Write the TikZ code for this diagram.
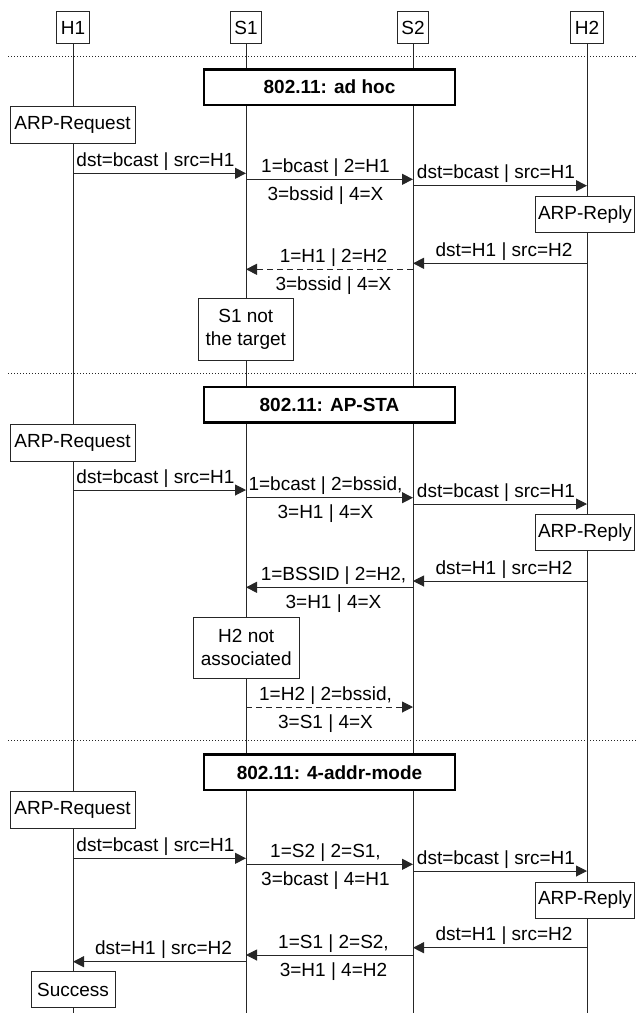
\documentclass[tikz,border=0pt]{standalone}
\usepackage{fontspec}
\setmainfont{Liberation Sans}
\usetikzlibrary{arrows.meta,backgrounds}
\definecolor{ln}{HTML}{262626}
\tikzset{
  txt/.style={font=\fontsize{19}{23}\selectfont},
  lbl/.style={txt, inner sep=0pt, anchor=base},
  bx/.style={txt, draw=ln, fill=white, line width=1pt, inner sep=2pt, align=center},
  head/.style={bx, minimum height=31.5pt, inner xsep=4pt},
  ttl/.style={draw=black, fill=white, line width=2.2pt, minimum width=251.5pt,
    minimum height=35.5pt, font=\bfseries\fontsize{19}{23}\selectfont},
  msg/.style={draw=ln, line width=1pt, -{Triangle[length=11pt,width=11pt]}},
  dmsg/.style={msg, dash pattern=on 6pt off 4pt},
  life/.style={draw=ln, line width=1pt},
  sepline/.style={draw=ln, line width=1pt, dash pattern=on 1.2pt off 1.8pt},
}
\begin{document}
\begin{tikzpicture}[x=1pt,y=-1pt]
\useasboundingbox (0,0) rectangle (636,1013);
% heads
\node[head] (H1) at (73,27.5) {H1};
\node[head] (S1) at (246,27.5) {S1};
\node[head] (S2) at (413,27.5) {S2};
\node[head] (H2) at (587,27.5) {H2};
\coordinate (H1end) at (73,1013);
\coordinate (S1end) at (246,1013);
\coordinate (S2end) at (413,1013);
\coordinate (H2end) at (587,1013);
% separators
\coordinate (sepA1) at (8,56);    \coordinate (sepA2) at (636,56);
\coordinate (sepB1) at (8,373);   \coordinate (sepB2) at (636,373);
\coordinate (sepC1) at (8,740.7); \coordinate (sepC2) at (636,740.7);
\begin{scope}[on background layer]
  \draw[sepline] (sepA1) -- (sepA2);
  \draw[sepline] (sepB1) -- (sepB2);
  \draw[sepline] (sepC1) -- (sepC2);
  \draw[life] (H1) -- (H1end);
  \draw[life] (S1) -- (S1end);
  \draw[life] (S2) -- (S2end);
  \draw[life] (H2) -- (H2end);
\end{scope}

% ---------------- section 1: ad hoc
\node[ttl] (t1) at (329.5,87.2) {802.11: ad hoc};
\node[bx, minimum width=125pt, minimum height=37pt] (req1) at (72.5,124.5) {ARP-Request};
\coordinate (a1) at (73,173.3);  \coordinate (b1) at (246,173.3);
\draw[msg] (a1) -- (b1);
\node[lbl] (l1) at (155.5,166.3) {dst=bcast | src=H1};
\coordinate (a2) at (246,179.3); \coordinate (b2) at (413,179.3);
\draw[msg] (a2) -- (b2);
\node[lbl] (l2a) at (325.5,172.3) {1=bcast | 2=H1};
\node[lbl] (l2b) at (325.5,200.3) {3=bssid | 4=X};
\coordinate (a3) at (413,185.7); \coordinate (b3) at (587,185.7);
\draw[msg] (a3) -- (b3);
\node[lbl] (l3) at (496,178.7) {dst=bcast | src=H1};
\node[bx, minimum width=99pt, minimum height=36pt] (rep1) at (585,214.7) {ARP-Reply};
\coordinate (a4) at (587,263.3); \coordinate (b4) at (413,263.3);
\draw[msg] (a4) -- (b4);
\node[lbl] (l4) at (504,256.3) {dst=H1 | src=H2};
\coordinate (a5) at (413,269.3); \coordinate (b5) at (246,269.3);
\draw[dmsg] (a5) -- (b5);
\node[lbl] (l5a) at (333.5,262.3) {1=H1 | 2=H2};
\node[lbl] (l5b) at (333.5,290.3) {3=bssid | 4=X};
\node[bx, minimum width=95pt, minimum height=61.7pt] (n1) at (245.8,329.8) {S1 not\\the target};

% ---------------- section 2: AP-STA
\node[ttl] (t2) at (329.5,404.7) {802.11: AP-STA};
\node[bx, minimum width=125pt, minimum height=37pt] (req2) at (72.5,442.7) {ARP-Request};
\coordinate (a6) at (73,490);  \coordinate (b6) at (246,490);
\draw[msg] (a6) -- (b6);
\node[lbl] (l6) at (155.5,483) {dst=bcast | src=H1};
\coordinate (a7) at (246,497.7); \coordinate (b7) at (413,497.7);
\draw[msg] (a7) -- (b7);
\node[lbl] (l7a) at (325.5,490.7) {1=bcast | 2=bssid,};
\node[lbl] (l7b) at (325.5,518.7) {3=H1 | 4=X};
\coordinate (a8) at (413,504); \coordinate (b8) at (587,504);
\draw[msg] (a8) -- (b8);
\node[lbl] (l8) at (496,497) {dst=bcast | src=H1};
\node[bx, minimum width=99pt, minimum height=36pt] (rep2) at (585,532.5) {ARP-Reply};
\coordinate (a9) at (587,581); \coordinate (b9) at (413,581);
\draw[msg] (a9) -- (b9);
\node[lbl] (l9) at (504,574) {dst=H1 | src=H2};
\coordinate (a10) at (413,587.3); \coordinate (b10) at (246,587.3);
\draw[msg] (a10) -- (b10);
\node[lbl] (l10a) at (333.5,580.3) {1=BSSID | 2=H2,};
\node[lbl] (l10b) at (333.5,608.3) {3=H1 | 4=X};
\node[bx, minimum width=105.7pt, minimum height=61pt] (n2) at (246.2,647.8) {H2 not\\associated};
\coordinate (a11) at (246,707); \coordinate (b11) at (413,707);
\draw[dmsg] (a11) -- (b11);
\node[lbl] (l11a) at (325.5,700) {1=H2 | 2=bssid,};
\node[lbl] (l11b) at (325.5,728) {3=S1 | 4=X};

% ---------------- section 3: 4-addr-mode
\node[ttl] (t3) at (329.5,772.2) {802.11: 4-addr-mode};
\node[bx, minimum width=125pt, minimum height=37pt] (req3) at (72.5,810) {ARP-Request};
\coordinate (a12) at (73,858.3);  \coordinate (b12) at (246,858.3);
\draw[msg] (a12) -- (b12);
\node[lbl] (l12) at (155.5,851.3) {dst=bcast | src=H1};
\coordinate (a13) at (246,864.3); \coordinate (b13) at (413,864.3);
\draw[msg] (a13) -- (b13);
\node[lbl] (l13a) at (325.5,857.3) {1=S2 | 2=S1,};
\node[lbl] (l13b) at (325.5,885.3) {3=bcast | 4=H1};
\coordinate (a14) at (413,871); \coordinate (b14) at (587,871);
\draw[msg] (a14) -- (b14);
\node[lbl] (l14) at (496,864) {dst=bcast | src=H1};
\node[bx, minimum width=99pt, minimum height=36pt] (rep3) at (585,900) {ARP-Reply};
\coordinate (a15) at (587,947.7); \coordinate (b15) at (413,947.7);
\draw[msg] (a15) -- (b15);
\node[lbl] (l15) at (504,940.7) {dst=H1 | src=H2};
\coordinate (a16) at (413,955); \coordinate (b16) at (246,955);
\draw[msg] (a16) -- (b16);
\node[lbl] (l16a) at (333.5,948) {1=S1 | 2=S2,};
\node[lbl] (l16b) at (333.5,976) {3=H1 | 4=H2};
\coordinate (a17) at (246,961.7); \coordinate (b17) at (73,961.7);
\draw[msg] (a17) -- (b17);
\node[lbl] (l17) at (163.5,954.7) {dst=H1 | src=H2};
\node[bx, minimum width=84pt, minimum height=35.6pt] (succ) at (73,989.5) {Success};
\end{tikzpicture}
\end{document}
